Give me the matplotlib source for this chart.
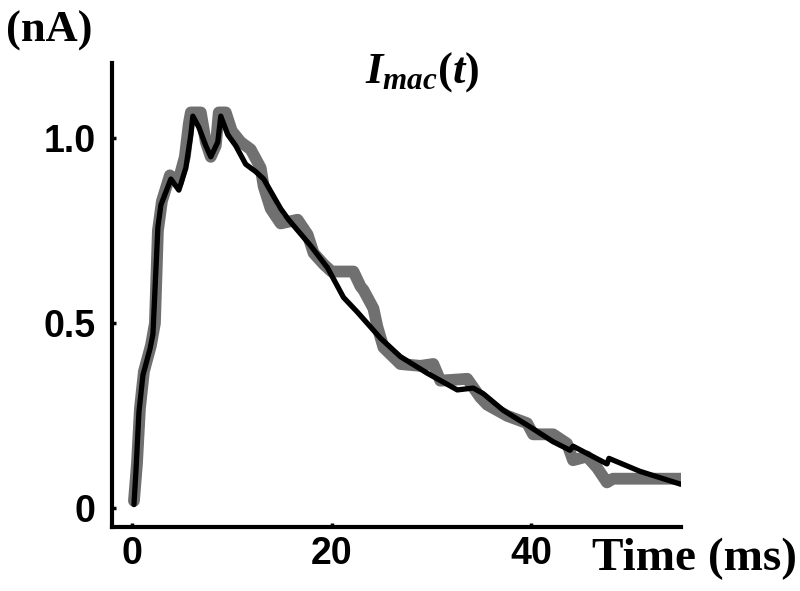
import numpy as np
import matplotlib
matplotlib.use("Agg")
import matplotlib.pyplot as plt

plt.rcParams["mathtext.fontset"] = "custom"
plt.rcParams["mathtext.it"] = "Liberation Serif:bold:italic"
plt.rcParams["mathtext.rm"] = "Liberation Serif:bold"

# -------- DATA --------
# fitted current (black)
t_fit = [0.2, 0.4, 0.7, 1.1, 1.8, 2.1, 2.6, 2.9, 3.9, 4.7, 5.4, 5.9, 6.1, 6.7,
         7.4, 7.9, 8.6, 8.9, 9.6, 10.4, 11.4, 12.4, 13.2, 14.9, 15.7, 17.9,
         19.6, 21.2, 22.6, 24.9, 26.9, 29.6, 32.6, 34.2, 35.2, 37.2, 39.9,
         42.2, 43.9, 44.2, 47.6, 47.8, 50.9, 55.0]
i_fit = [0.01, 0.10, 0.26, 0.36, 0.43, 0.47, 0.76, 0.82, 0.89, 0.86, 0.92, 1.01,
         1.06, 1.03, 0.98, 0.95, 0.99, 1.06, 1.01, 0.98, 0.93, 0.91, 0.89, 0.81,
         0.78, 0.71, 0.65, 0.57, 0.53, 0.46, 0.41, 0.365, 0.32, 0.325, 0.31,
         0.265, 0.22, 0.18, 0.157, 0.168, 0.12, 0.135, 0.10, 0.065]

# measured current (gray)
t_mac = [0.2, 0.5, 0.8, 1.2, 1.9, 2.3, 2.6, 3.0, 3.8, 4.6, 5.3, 5.7, 5.9, 6.9,
         7.4, 7.9, 8.4, 8.7, 9.4, 10.0, 10.9, 11.9, 12.9, 13.2, 13.9, 14.9,
         16.6, 17.6, 18.2, 19.2, 20.0, 22.2, 22.9, 23.2, 24.2, 24.6, 25.2,
         26.9, 28.9, 30.2, 30.9, 33.6, 34.9, 35.6, 37.6, 39.6, 40.2, 42.2,
         43.6, 44.2, 45.6, 46.6, 47.6, 48.2, 55.0]
i_mac = [0.02, 0.12, 0.27, 0.37, 0.44, 0.50, 0.75, 0.83, 0.90, 0.88, 0.95, 1.04,
         1.07, 1.07, 0.99, 0.95, 0.98, 1.07, 1.07, 1.02, 0.99, 0.97, 0.92, 0.87,
         0.81, 0.77, 0.78, 0.74, 0.69, 0.66, 0.64, 0.64, 0.60, 0.59, 0.54, 0.49,
         0.435, 0.39, 0.385, 0.39, 0.345, 0.35, 0.30, 0.28, 0.25, 0.23, 0.20,
         0.20, 0.175, 0.13, 0.14, 0.11, 0.07, 0.08, 0.08]

x_ticks = [0, 20, 40]
y_ticks = [0, 0.5, 1.0]
y_ticklabels = ["0", "0.5", "1.0"]

# -------- PLOT --------
fig = plt.figure(figsize=(8, 5.91), dpi=100)
ax = fig.add_axes([0.14, 0.108, 0.711, 0.785])

ax.plot(t_mac, i_mac, color="#707070", lw=8.5,
        solid_joinstyle="round", solid_capstyle="round")
ax.plot(t_fit, i_fit, color="black", lw=3.8,
        solid_joinstyle="round", solid_capstyle="round")

ax.set_xlim(-2, 55)
ax.set_ylim(-0.051, 1.203)

for s in ["top", "right"]:
    ax.spines[s].set_visible(False)
for s in ["left", "bottom"]:
    ax.spines[s].set_linewidth(3)

ax.set_xticks(x_ticks)
ax.set_yticks(y_ticks)
ax.set_yticklabels(y_ticklabels)
ax.tick_params(direction="in", length=3, width=2.5, labelsize=27)
ax.tick_params(axis="y", pad=12)
ax.tick_params(axis="x", pad=6)
for lab in ax.get_xticklabels() + ax.get_yticklabels():
    lab.set_fontweight("bold")
    lab.set_family("Liberation Sans")

fig.text(0.008, 0.93, "(nA)", family="Liberation Serif", fontweight="bold",
         fontsize=32, ha="left", va="baseline")
fig.text(0.996, 0.035, "Time (ms)", family="Liberation Serif", fontweight="bold",
         fontsize=34, ha="right", va="baseline")
fig.text(0.528, 0.861, r"$I_{mac}(t)$", fontsize=32, ha="center", va="baseline")

fig.savefig("out.png", dpi=100)
